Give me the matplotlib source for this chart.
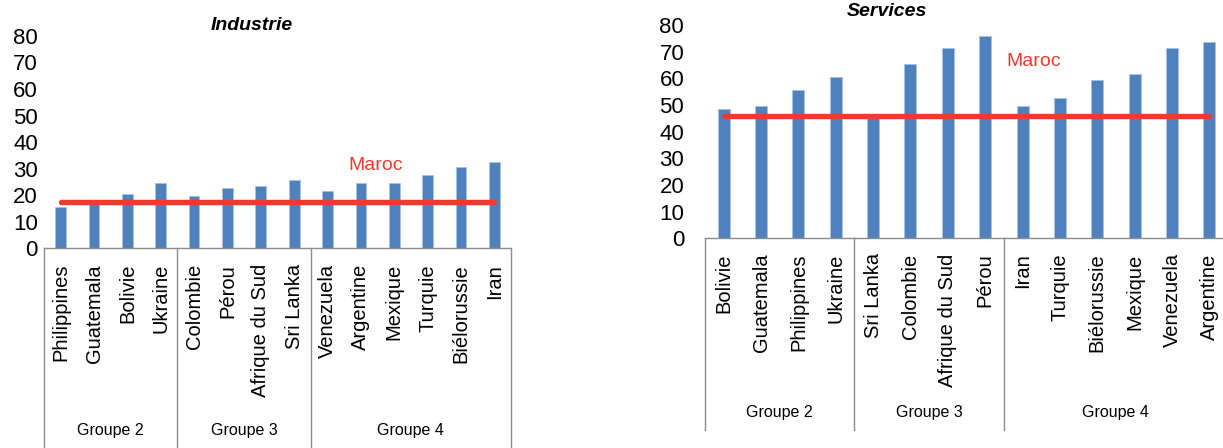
import matplotlib.pyplot as plt
from matplotlib.transforms import blended_transform_factory

# industry sector (left chart)
industrie_pays = ["Philippines", "Guatemala", "Bolivie", "Ukraine",
                  "Colombie", "Pérou", "Afrique du Sud", "Sri Lanka",
                  "Venezuela", "Argentine", "Mexique", "Turquie", "Biélorussie", "Iran"]
industrie_valeurs = [15.5, 17.5, 20.5, 24.5, 19.5, 22.5, 23.5, 25.5,
                     21.5, 24.5, 24.5, 27.5, 30.5, 32.5]
industrie_maroc = 17.5

# services sector (right chart)
services_pays = ["Bolivie", "Guatemala", "Philippines", "Ukraine",
                 "Sri Lanka", "Colombie", "Afrique du Sud", "Pérou",
                 "Iran", "Turquie", "Biélorussie", "Mexique", "Venezuela", "Argentine"]
services_valeurs = [48.5, 49.5, 55.5, 60.5, 46.5, 65.5, 71.5, 76.0,
                    49.5, 52.5, 59.5, 61.5, 71.5, 73.5]
services_maroc = 45.7

# groups: name and number of countries
groupes = ["Groupe 2", "Groupe 3", "Groupe 4"]
groupes_taille = [4, 4, 6]

y_ticks = [0, 10, 20, 30, 40, 50, 60, 70, 80]

BLUE = "#4F81BD"
RED = "#EE3B2D"
GREY = "#8C8C8C"
W, H = 1223, 448


def px(x, y):
    # pixel position -> figure fraction
    return x / W, 1 - y / H


def create_plot(fig, rect, pays, valeurs, maroc, title, title_pos,
                maroc_pos, ytick_pad, label_pad, frame_bottom, group_y):
    axis = fig.add_axes(rect)
    xs = list(range(len(pays)))
    axis.bar(xs, valeurs, width=0.32, color=BLUE, edgecolor="#A7C1E3", linewidth=0.6, zorder=2)
    # Maroc reference line
    axis.plot([xs[0], xs[-1]], [maroc, maroc], color=RED, linewidth=3.9,
              solid_capstyle="round", zorder=3)
    axis.text(maroc_pos[0], maroc_pos[1], "Maroc", color=RED, fontsize=14,
              ha="center", va="center")
    axis.set_xlim(-0.5, len(pays) - 0.5)
    axis.set_ylim(0, 80)
    axis.set_yticks(y_ticks)
    axis.tick_params(axis="y", length=0, labelsize=16, pad=ytick_pad)
    axis.set_xticks(xs, labels=pays, rotation=90, fontsize=14.5)
    axis.tick_params(axis="x", length=0, pad=label_pad)
    for side in ["left", "right", "top"]:
        axis.spines[side].set_visible(False)
    axis.spines["bottom"].set_color(GREY)
    axis.spines["bottom"].set_linewidth(1.0)

    # group frame below the axis
    trans = blended_transform_factory(axis.transData, fig.transFigure)
    start = -0.5
    bounds = [start]
    for name, size in zip(groupes, groupes_taille):
        axis.text(start + size / 2, group_y, name, transform=trans, fontsize=11.5,
                  ha="center", va="center")
        start += size
        bounds.append(start)
    for b in bounds:
        axis.plot([b, b], [rect[1], frame_bottom], transform=trans, color=GREY,
                  linewidth=1.0, clip_on=False)

    fig.text(title_pos[0], title_pos[1], title, fontsize=14, fontweight="bold",
             fontstyle="italic", ha="center", va="center")
    return axis


def main():
    plt.rcParams["font.family"] = ["Liberation Sans", "DejaVu Sans"]
    fig = plt.figure(figsize=(W / 100, H / 100), dpi=100)

    # left chart: axis from x=44 to 511, zero at y=248, 80 at y=36
    x0, y0 = px(44, 248)
    x1, y1 = px(511, 36)
    create_plot(fig, [x0, y0, x1 - x0, y1 - y0], industrie_pays, industrie_valeurs,
                industrie_maroc, "Industrie", px(252, 25), (9.45, 31.3),
                ytick_pad=4.5, label_pad=11.5, frame_bottom=0.0, group_y=px(0, 430)[1])

    # right chart: axis from x=705 to 1228, zero at y=238, 80 at y=25
    x0, y0 = px(705, 238.3)
    x1, y1 = px(1228, 25)
    create_plot(fig, [x0, y0, x1 - x0, y1 - y0], services_pays, services_valeurs,
                services_maroc, "Services", px(887, 12), (8.3, 66.2),
                ytick_pad=15, label_pad=10.8, frame_bottom=px(0, 430)[1],
                group_y=px(0, 412.7)[1])

    fig.savefig("out.png", dpi=100)


if __name__ == "__main__":
    main()
